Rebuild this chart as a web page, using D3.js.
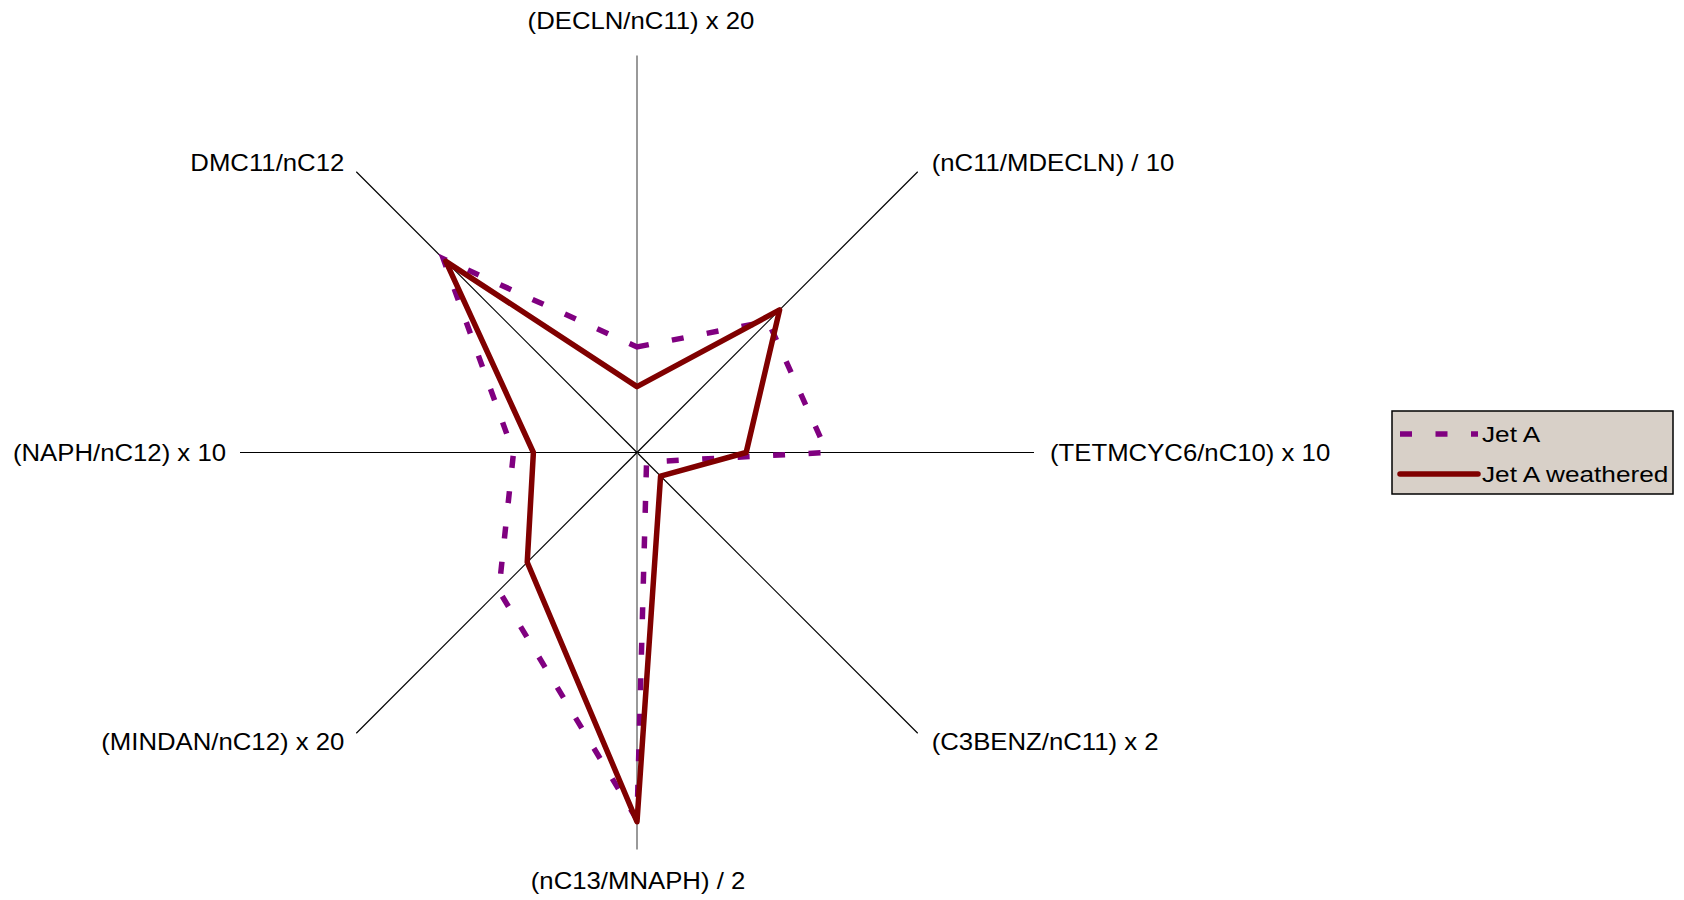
<!DOCTYPE html>
<html>
<head>
<meta charset="utf-8">
<script src="https://cdn.jsdelivr.net/npm/d3@7"></script>
<style>
  html, body { margin: 0; padding: 0; background: #fff; }
  svg { display: block; }
  text { font-family: "Liberation Sans", Arial, sans-serif; fill: #000; }
</style>
</head>
<body>
<svg id="chart" width="1684" height="900"></svg>
<script>
// ---- Data ----
const categories = [
  "(DECLN/nC11) x 20",
  "(nC11/MDECLN) / 10",
  "(TETMCYC6/nC10) x 10",
  "(C3BENZ/nC11) x 2",
  "(nC13/MNAPH) / 2",
  "(MINDAN/nC12) x 20",
  "(NAPH/nC12) x 10",
  "DMC11/nC12"
];
const jetA          = [0.266, 0.467, 0.479, 0.034, 0.925, 0.492, 0.311, 0.690];
const jetAWeathered = [0.166, 0.508, 0.275, 0.084, 0.930, 0.391, 0.261, 0.681];
const seriesNames   = ["Jet A", "Jet A weathered"];
const scaleMax      = 1.0;

// ---- Layout ----
const svg = d3.select("#chart");
const cx = 637, cy = 452.5, R = 397;
const r = d3.scaleLinear().domain([0, scaleMax]).range([0, R]);
const angle = d3.scaleLinear().domain([0, categories.length]).range([0, 2 * Math.PI]);

const g = svg.append("g").attr("transform", `translate(${cx},${cy})`);

// axes
const axisColor = i => (i === 0 || i === 4) ? "#6e6e6e" : "#000";
const axisWidth = i => (i === 0 || i === 4) ? 1.4 : (i === 2 || i === 6) ? 1 : 1.2;
categories.forEach((c, i) => {
  const a = angle(i);
  g.append("line")
    .attr("x1", 0).attr("y1", 0)
    .attr("x2", r(scaleMax) * Math.sin(a))
    .attr("y2", -r(scaleMax) * Math.cos(a))
    .attr("stroke", axisColor(i))
    .attr("stroke-width", axisWidth(i));
});

// category labels
const labelPlace = [
  { anchor: "middle", dx: 4,   dy: -27 },
  { anchor: "start",  dx: 14,  dy: -1 },
  { anchor: "start",  dx: 16,  dy: 8.5 },
  { anchor: "start",  dx: 14,  dy: 17 },
  { anchor: "middle", dx: 1,   dy: 39 },
  { anchor: "end",    dx: -12, dy: 17 },
  { anchor: "end",    dx: -14, dy: 8.5 },
  { anchor: "end",    dx: -12, dy: -1 }
];
categories.forEach((c, i) => {
  const a = angle(i);
  const ex = r(scaleMax) * Math.sin(a), ey = -r(scaleMax) * Math.cos(a);
  const p = labelPlace[i];
  const t = g.append("text")
    .attr("x", ex + p.dx)
    .attr("y", ey + p.dy)
    .attr("text-anchor", p.anchor)
    .style("font-size", "24.5px")
    .text(c);
  const w = t.node().getComputedTextLength();
  t.attr("textLength", w * 1.05).attr("lengthAdjust", "spacingAndGlyphs");
});

// series
const radial = d3.lineRadial()
  .angle((d, i) => angle(i))
  .radius(d => r(d))
  .curve(d3.curveLinearClosed);

g.append("path")
  .attr("d", radial(jetA))
  .attr("fill", "none")
  .attr("stroke", "#800080")
  .attr("stroke-width", 5.5)
  .attr("stroke-dasharray", "12,23.5");

g.append("path")
  .attr("d", radial(jetAWeathered))
  .attr("fill", "none")
  .attr("stroke", "#800000")
  .attr("stroke-width", 5.5)
  .attr("stroke-linejoin", "round");

// legend
const lg = svg.append("g").attr("transform", "translate(1392,411)");
lg.append("rect")
  .attr("width", 281).attr("height", 83)
  .attr("fill", "#d8d0c8")
  .attr("stroke", "#000").attr("stroke-width", 1.5);

const legendItems = [
  { name: seriesNames[0], color: "#800080", dash: "12,23.5", cap: "butt", y: 23 },
  { name: seriesNames[1], color: "#800000", dash: null, cap: "round", y: 63 }
];
legendItems.forEach(it => {
  lg.append("line")
    .attr("x1", 8).attr("x2", 86)
    .attr("y1", it.y).attr("y2", it.y)
    .attr("stroke", it.color)
    .attr("stroke-width", 5.5)
    .attr("stroke-linecap", it.cap)
    .attr("stroke-dasharray", it.dash);
  const t = lg.append("text")
    .attr("x", 90)
    .attr("y", it.y + 7.5)
    .style("font-size", "22px")
    .text(it.name);
  const w = t.node().getComputedTextLength();
  t.attr("textLength", w * 1.19).attr("lengthAdjust", "spacingAndGlyphs");
});
</script>
</body>
</html>
